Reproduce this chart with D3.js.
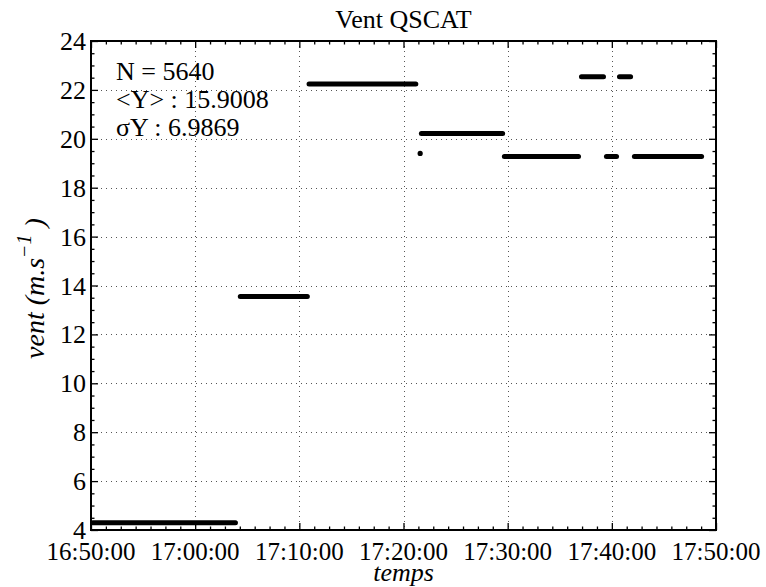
<!DOCTYPE html>
<html><head><meta charset="utf-8">
<script src="https://cdn.jsdelivr.net/npm/d3@7"></script>
<style>body{margin:0;background:#fff}svg{display:block}</style>
</head><body>
<svg id="c" width="766" height="587"></svg>
<script>
// ---- data ----
const title = "Vent QSCAT";
const xLabel = "temps";
const statsLines = ["N = 5640", "<Y> : 15.9008", "\u03c3Y : 6.9869"];
const xTickLabels = ["16:50:00","17:00:00","17:10:00","17:20:00","17:30:00","17:40:00","17:50:00"];
const yTickValues = [4,6,8,10,12,14,16,18,20,22,24];
// constant-value runs of the QSCAT wind series (start, end, value in m/s)
const segStart = ["16:50:10","17:04:20","17:10:56","17:21:43","17:29:41","17:37:05","17:39:29","17:40:44","17:42:10"];
const segEnd   = ["17:03:52","17:10:46","17:21:11","17:29:31","17:36:48","17:39:12","17:40:27","17:41:48","17:48:37"];
const segValue = [4.30, 13.55, 22.24, 20.22, 19.28, 22.54, 19.28, 22.54, 19.28];
// isolated sample
const dotTime = ["17:21:36"];
const dotValue = [19.40];

// ---- chart ----
const W = 766, H = 587;
const m = {left: 91, right: 50, top: 41, bottom: 57};
const F = "'Liberation Serif', 'DejaVu Serif', serif";
const svg = d3.select("#c");
const parse = d3.timeParse("%H:%M:%S");
const x = d3.scaleTime().domain([parse(xTickLabels[0]), parse(xTickLabels[xTickLabels.length-1])]).range([m.left, W - m.right]);
const y = d3.scaleLinear().domain([4, 24]).range([H - m.bottom, m.top]);
const x0 = m.left, x1 = W - m.right, y0 = H - m.bottom, y1 = m.top;

const xMajor = xTickLabels.map(parse);
const xMinor = [];
for (let i = 0; i < xMajor.length - 1; i++) {
  const a = +xMajor[i], b = +xMajor[i+1];
  for (let k = 1; k < 7; k++) xMinor.push(new Date(a + (b - a) * k / 7));
}
const yMinor = d3.range(4, 24.01, 0.5).filter(v => Math.abs(v/2 - Math.round(v/2)) > 1e-6);

// grid
const grid = svg.append("g").attr("stroke", "#555").attr("stroke-width", 1).attr("stroke-dasharray", "1,4");
grid.selectAll(".gx").data(xMajor.slice(1, -1)).join("line")
  .attr("x1", d => Math.round(x(d)) + 0.5).attr("x2", d => Math.round(x(d)) + 0.5).attr("y1", y1).attr("y2", y0);
grid.selectAll(".gy").data(yTickValues.slice(1, -1)).join("line")
  .attr("y1", d => Math.round(y(d)) + 0.5).attr("y2", d => Math.round(y(d)) + 0.5).attr("x1", x0).attr("x2", x1);

// data segments
const segs = segStart.map((s, i) => ({t0: parse(s), t1: parse(segEnd[i]), v: segValue[i]}));
svg.append("g").selectAll("line").data(segs).join("line")
  .attr("x1", d => x(d.t0)).attr("x2", d => x(d.t1))
  .attr("y1", d => y(d.v)).attr("y2", d => y(d.v))
  .attr("stroke", "#000").attr("stroke-width", 5).attr("stroke-linecap", "round");
svg.append("g").selectAll("circle").data(dotTime.map((t, i) => ({t: parse(t), v: dotValue[i]}))).join("circle")
  .attr("cx", d => x(d.t)).attr("cy", d => y(d.v)).attr("r", 2.6).attr("fill", "#000");

// ticks (inward, all four sides)
function axisPair(gen, scale, major, minor, transform) {
  svg.append("g").attr("transform", transform)
    .call(gen(scale).tickValues(major).tickSize(-7).tickFormat(""));
  svg.append("g").attr("transform", transform)
    .call(gen(scale).tickValues(minor).tickSize(-3.5).tickFormat(""));
}
axisPair(d3.axisBottom, x, xMajor, xMinor, `translate(0,${y0})`);
axisPair(d3.axisTop, x, xMajor, xMinor, `translate(0,${y1})`);
axisPair(d3.axisLeft, y, yTickValues, yMinor, `translate(${x0},0)`);
axisPair(d3.axisRight, y, yTickValues, yMinor, `translate(${x1},0)`);
svg.selectAll(".domain").remove();
svg.selectAll(".tick line").attr("stroke", "#000").attr("stroke-width", 1.3);

// frame
svg.append("rect").attr("x", x0).attr("y", y1).attr("width", x1 - x0).attr("height", y0 - y1)
  .attr("fill", "none").attr("stroke", "#000").attr("stroke-width", 2);

// tick labels
svg.append("g").selectAll("text").data(xMajor).join("text")
  .attr("font-family", F)
  .attr("x", d => x(d)).attr("y", y0 + 30).attr("text-anchor", "middle").attr("font-size", 25)
  .text((d, i) => xTickLabels[i]);
svg.append("g").selectAll("text").data(yTickValues).join("text")
  .attr("font-family", F)
  .attr("x", x0 - 5).attr("y", d => y(d) + 9).attr("text-anchor", "end").attr("font-size", 26)
  .text(d => d);

// titles
svg.append("text").attr("font-family", F).attr("x", (x0 + x1) / 2).attr("y", 28).attr("text-anchor", "middle").attr("font-size", 26).text(title);
svg.append("text").attr("font-family", F).attr("x", (x0 + x1) / 2).attr("y", 581).attr("text-anchor", "middle").attr("font-size", 26)
  .attr("font-style", "italic").text(xLabel);
const yl = svg.append("text").attr("font-family", F).attr("transform", `translate(44,${(y0 + y1) / 2 + 3}) rotate(-90)`)
  .attr("text-anchor", "middle").attr("font-size", 28).attr("font-style", "italic");
yl.append("tspan").text("vent (m.s");
yl.append("tspan").attr("dy", -13).attr("font-size", 20).text("\u22121");
yl.append("tspan").attr("dy", 13).text(" )");

// stats
svg.append("g").selectAll("text").data(statsLines).join("text")
  .attr("font-family", F)
  .attr("x", 116).attr("y", (d, i) => 80 + i * 28).attr("font-size", 26).text(d => d);
</script>
</body></html>
